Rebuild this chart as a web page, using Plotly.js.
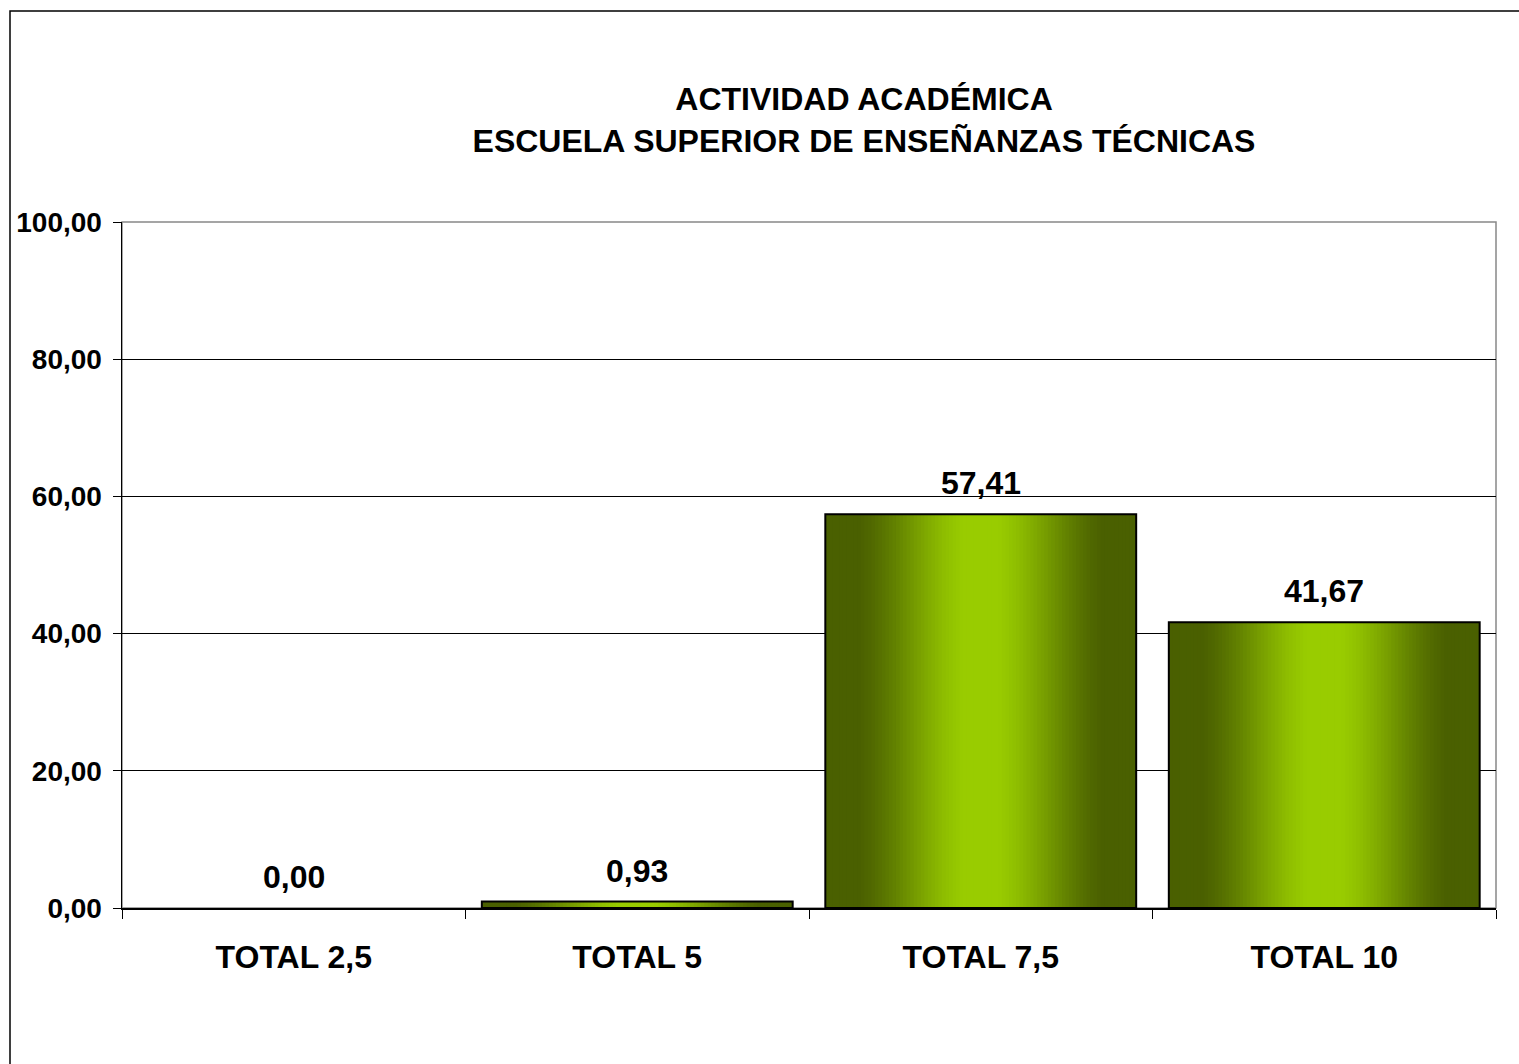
<!DOCTYPE html>
<html><head><meta charset="utf-8">
<script src="https://cdn.plot.ly/plotly-3.0.1.min.js"></script>
<style>html,body{margin:0;padding:0;background:#fff}#chart{width:1519px;height:1064px}</style>
</head><body><div id="chart"></div>
<script>
const categories = ["TOTAL 2,5", "TOTAL 5", "TOTAL 7,5", "TOTAL 10"];
const values = [0.00, 0.93, 57.41, 41.67];
const yTicks = [0, 20, 40, 60, 80, 100];
const titleLines = ["ACTIVIDAD ACADÉMICA", "ESCUELA SUPERIOR DE ENSEÑANZAS TÉCNICAS"];

const FONT = "Liberation Sans, Arial, sans-serif";
const W = 0.905;
const N = 44;
const dark = [74, 96, 0], bright = [153, 204, 0];
function mix(t) { // t: 0 = center, 1 = edge
  let s = (t - 0.12) / (0.8 - 0.12);
  s = Math.max(0, Math.min(1, s));
  s = 0.5 * s + 0.5 * s * s * (3 - 2 * s);
  const c = dark.map((d, i) => Math.round(bright[i] + (d - bright[i]) * s));
  return `rgb(${c[0]},${c[1]},${c[2]})`;
}
const traces = [];
for (let k = 0; k < N; k++) {
  const t = 1 - k / N;
  traces.push({
    type: 'bar', x: categories, y: values, width: W * t,
    marker: { color: mix(t), line: { width: 0 } },
    hoverinfo: 'skip', showlegend: false
  });
}
traces.push({
  type: 'bar', x: categories, y: values, width: W,
  marker: { color: 'rgba(0,0,0,0)', line: { width: values.map(v => v > 0 ? 2 : 0), color: '#000' } },
  hoverinfo: 'skip', showlegend: false
});

const annotations = categories.map((c, i) => ({
  x: c, y: values[i], xref: 'x', yref: 'y',
  text: values[i].toFixed(2).replace('.', ','),
  showarrow: false, yanchor: 'bottom', yshift: 11,
  font: { family: FONT, size: 32, color: '#000', weight: 'bold' }
}));

const layout = {
  width: 1519, height: 1064,
  margin: { l: 122, r: 23, t: 222, b: 156 },
  paper_bgcolor: '#fff', plot_bgcolor: '#fff',
  separators: ',.',
  barmode: 'overlay',
  title: {
    text: titleLines.join('<br>'),
    font: { family: FONT, size: 32, color: '#000', weight: 'bold' },
    x: 864 / 1519, xanchor: 'center', xref: 'container',
    y: 1 - 110 / 1064, yanchor: 'middle', yref: 'container'
  },
  xaxis: {
    type: 'category', showgrid: false,
    tickson: 'boundaries', ticks: 'outside', ticklen: 9, tickcolor: '#000', tickwidth: 1,
    showline: true, linecolor: '#000', linewidth: 1.5,
    tickfont: { family: FONT, size: 32, color: '#000', weight: 'bold' },
    ticklabelstandoff: 20, fixedrange: true
  },
  yaxis: {
    range: [0, 100], tickvals: yTicks, tickformat: '.2f',
    showgrid: true, gridcolor: '#000', gridwidth: 1,
    ticks: 'outside', ticklen: 8, tickcolor: '#000', tickwidth: 1,
    showline: true, linecolor: '#000', linewidth: 1.5,
    zeroline: false,
    tickfont: { family: FONT, size: 28, color: '#000', weight: 'bold' },
    ticklabelstandoff: 5, fixedrange: true
  },
  shapes: [
    { type: 'rect', xref: 'paper', yref: 'paper', x0: 0, x1: 1, y0: 0, y1: 1,
      line: { color: '#888', width: 1.5 }, layer: 'below' },
    { type: 'rect', xref: 'paper', yref: 'paper',
      x0: (10 - 122) / 1374, x1: 1.3, y0: -0.5, y1: (908 - 11) / 686,
      line: { color: '#000', width: 1.5 }, layer: 'above' }
  ],
  annotations: annotations
};
Plotly.newPlot('chart', traces, layout, { displayModeBar: false, staticPlot: true });
</script></body></html>
